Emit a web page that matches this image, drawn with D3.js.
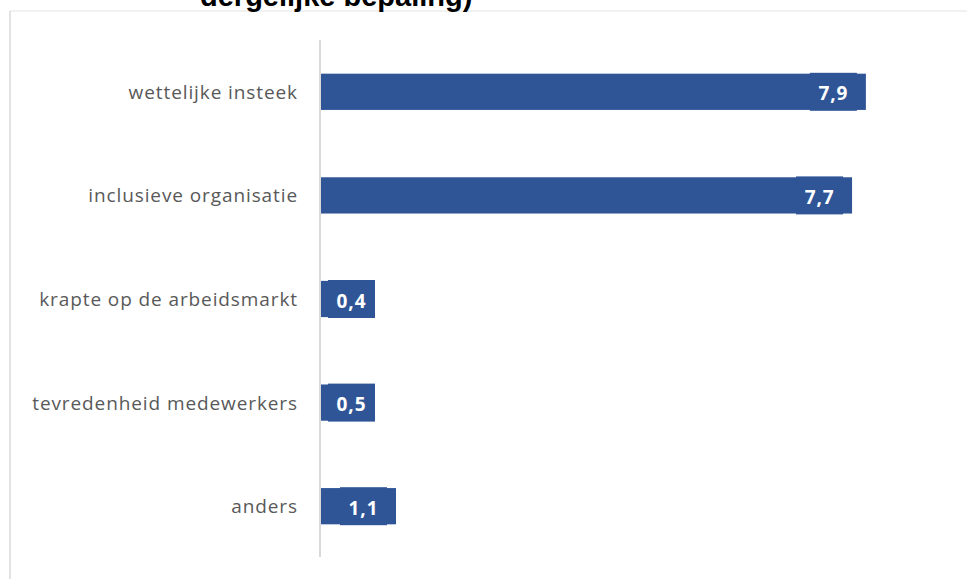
<!DOCTYPE html>
<html>
<head>
<meta charset="utf-8">
<script src="https://cdn.jsdelivr.net/npm/d3@7"></script>
<style>
  html, body { margin: 0; padding: 0; background: #ffffff; overflow: hidden; }
  svg { display: block; }
</style>
</head>
<body>
<svg id="chart" width="967" height="579"></svg>
<script>
// Reasons named for the measure (average score)
const categories = [
  "wettelijke insteek",
  "inclusieve organisatie",
  "krapte op de arbeidsmarkt",
  "tevredenheid medewerkers",
  "anders"
];
const values = [7.9, 7.7, 0.4, 0.5, 1.1];
const titleText = "dergelijke bepaling)";

const data = categories.map((c, i) => ({ category: c, value: values[i] }));

const W = 967, H = 579;
const barColor = "#2F5597";
const gridGrey = "#D9D9D9";

const svg = d3.select("#chart");

// Dutch number formatting: decimal comma
const nl = d3.formatLocale({ decimal: ",", thousands: ".", grouping: [3], currency: ["€ ", ""] });
const fmt = nl.format(".1f");

// Chart area frame (left and top edges visible)
svg.append("line")
  .attr("x1", 10).attr("x2", W).attr("y1", 11).attr("y2", 11)
  .attr("stroke", "#E3E3E3").attr("stroke-width", 1.2);
svg.append("line")
  .attr("x1", 10).attr("x2", 10).attr("y1", 11).attr("y2", H)
  .attr("stroke", gridGrey).attr("stroke-width", 1.5);

// Title (its upper part runs past the top of the page)
svg.append("text")
  .attr("x", 200).attr("y", 6)
  .attr("font-family", "'Liberation Sans', Arial, sans-serif")
  .attr("font-weight", "bold")
  .attr("font-size", 29)
  .attr("fill", "#000000")
  .text(titleText);

// Scales
const x = d3.scaleLinear().domain([0, 9]).range([320, 320 + 9 * 69.1]);
const y = d3.scaleBand()
  .domain(categories)
  .range([40, 558])
  .paddingInner(0.65)
  .paddingOuter(0.325);

// Bars
svg.append("g").selectAll("rect")
  .data(data)
  .join("rect")
  .attr("x", x(0))
  .attr("y", d => y(d.category))
  .attr("width", d => x(d.value) - x(0))
  .attr("height", y.bandwidth())
  .attr("fill", barColor);

// Category axis (left), labels only plus the baseline
const yAxis = d3.axisLeft(y).tickSize(0).tickPadding(22);
const gy = svg.append("g")
  .attr("transform", `translate(${x(0)},0)`)
  .call(yAxis);
gy.select(".domain").remove();
gy.selectAll("text")
  .attr("font-family", "'Open Sans', sans-serif")
  .attr("font-size", 19)
  .attr("letter-spacing", "0.9px")
  .attr("fill", "#595959")
  .attr("dy", "0.37em");

svg.append("line")
  .attr("x1", x(0)).attr("x2", x(0))
  .attr("y1", 40).attr("y2", 557)
  .attr("stroke", gridGrey).attr("stroke-width", 2);

// Value labels on filled boxes, anchored inside the bar end
const boxW = 47, boxH = 38;
const labelRight = d => Math.max(x(d.value) - 9, x(0) + 8 + boxW);

const labels = svg.append("g").selectAll("g")
  .data(data)
  .join("g")
  .attr("transform", d => `translate(${labelRight(d) - boxW},${y(d.category) + y.bandwidth() / 2})`);

labels.append("rect")
  .attr("x", 0)
  .attr("y", -boxH / 2)
  .attr("width", boxW)
  .attr("height", boxH)
  .attr("fill", barColor);

labels.append("text")
  .attr("x", boxW / 2)
  .attr("y", 8.5)
  .attr("text-anchor", "middle")
  .attr("font-family", "'Open Sans', sans-serif")
  .attr("font-weight", "bold")
  .attr("font-size", 19)
  .attr("letter-spacing", "0.9px")
  .attr("fill", "#ffffff")
  .text(d => fmt(d.value));
</script>
</body>
</html>
